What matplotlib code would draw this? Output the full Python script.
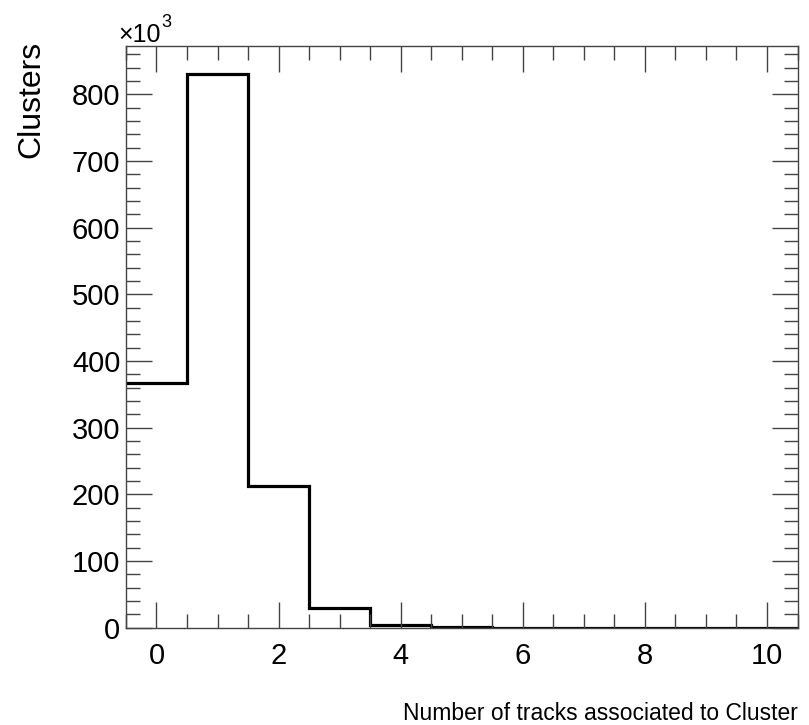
import matplotlib
matplotlib.use("Agg")
import matplotlib.pyplot as plt
from matplotlib.ticker import MultipleLocator
import numpy as np

plt.rcParams['font.family'] = ['Liberation Sans', 'DejaVu Sans']

# Data: number of tracks associated to a cluster (bins 0..10), counts
n_tracks = [0, 1, 2, 3, 4, 5, 6, 7, 8, 9, 10]
clusters = [367000, 831000, 213000, 29000, 4500, 800, 200, 50, 10, 0, 0]
x_ticks = [0, 2, 4, 6, 8, 10]
y_ticks = [0, 100, 200, 300, 400, 500, 600, 700, 800]

fig = plt.figure(figsize=(8.09, 7.25), dpi=100)
ax = fig.add_axes([0.1557, 0.1342, 0.8301, 0.8024])

centers = np.array(n_tracks, dtype=float)
edges = np.concatenate([centers - 0.5, [centers[-1] + 0.5]])
vals = np.array(clusters, dtype=float) / 1000.0
ax.stairs(vals, edges, color='black', linewidth=2.3, baseline=None)

ax.set_xlim(-0.5, 10.5)
ax.set_ylim(0, max(vals) * 1.05)

ax.set_xticks(x_ticks)
ax.set_yticks(y_ticks)
ax.xaxis.set_minor_locator(MultipleLocator(0.5))
ax.yaxis.set_minor_locator(MultipleLocator(20))
ax.tick_params(which='both', direction='in', top=True, right=True,
               color='#444444', width=1.0)
ax.tick_params(which='major', length=19, labelsize=21, pad=10)
ax.tick_params(which='minor', length=10)
ax.tick_params(axis='y', which='major', pad=4)
for s in ax.spines.values():
    s.set_color('#444444')
    s.set_linewidth(1.0)

fig.text(0.9858, 0.007, 'Number of tracks associated to Cluster',
         ha='right', va='baseline', fontsize=16.5)
fig.text(0.039, 0.943, 'Clusters', rotation=90, ha='center', va='top',
         fontsize=23)
fig.text(0.146, 0.942, '×10', ha='left', va='baseline', fontsize=18)
fig.text(0.200, 0.963, '3', ha='left', va='baseline', fontsize=13)

fig.savefig('out.png', dpi=100)
